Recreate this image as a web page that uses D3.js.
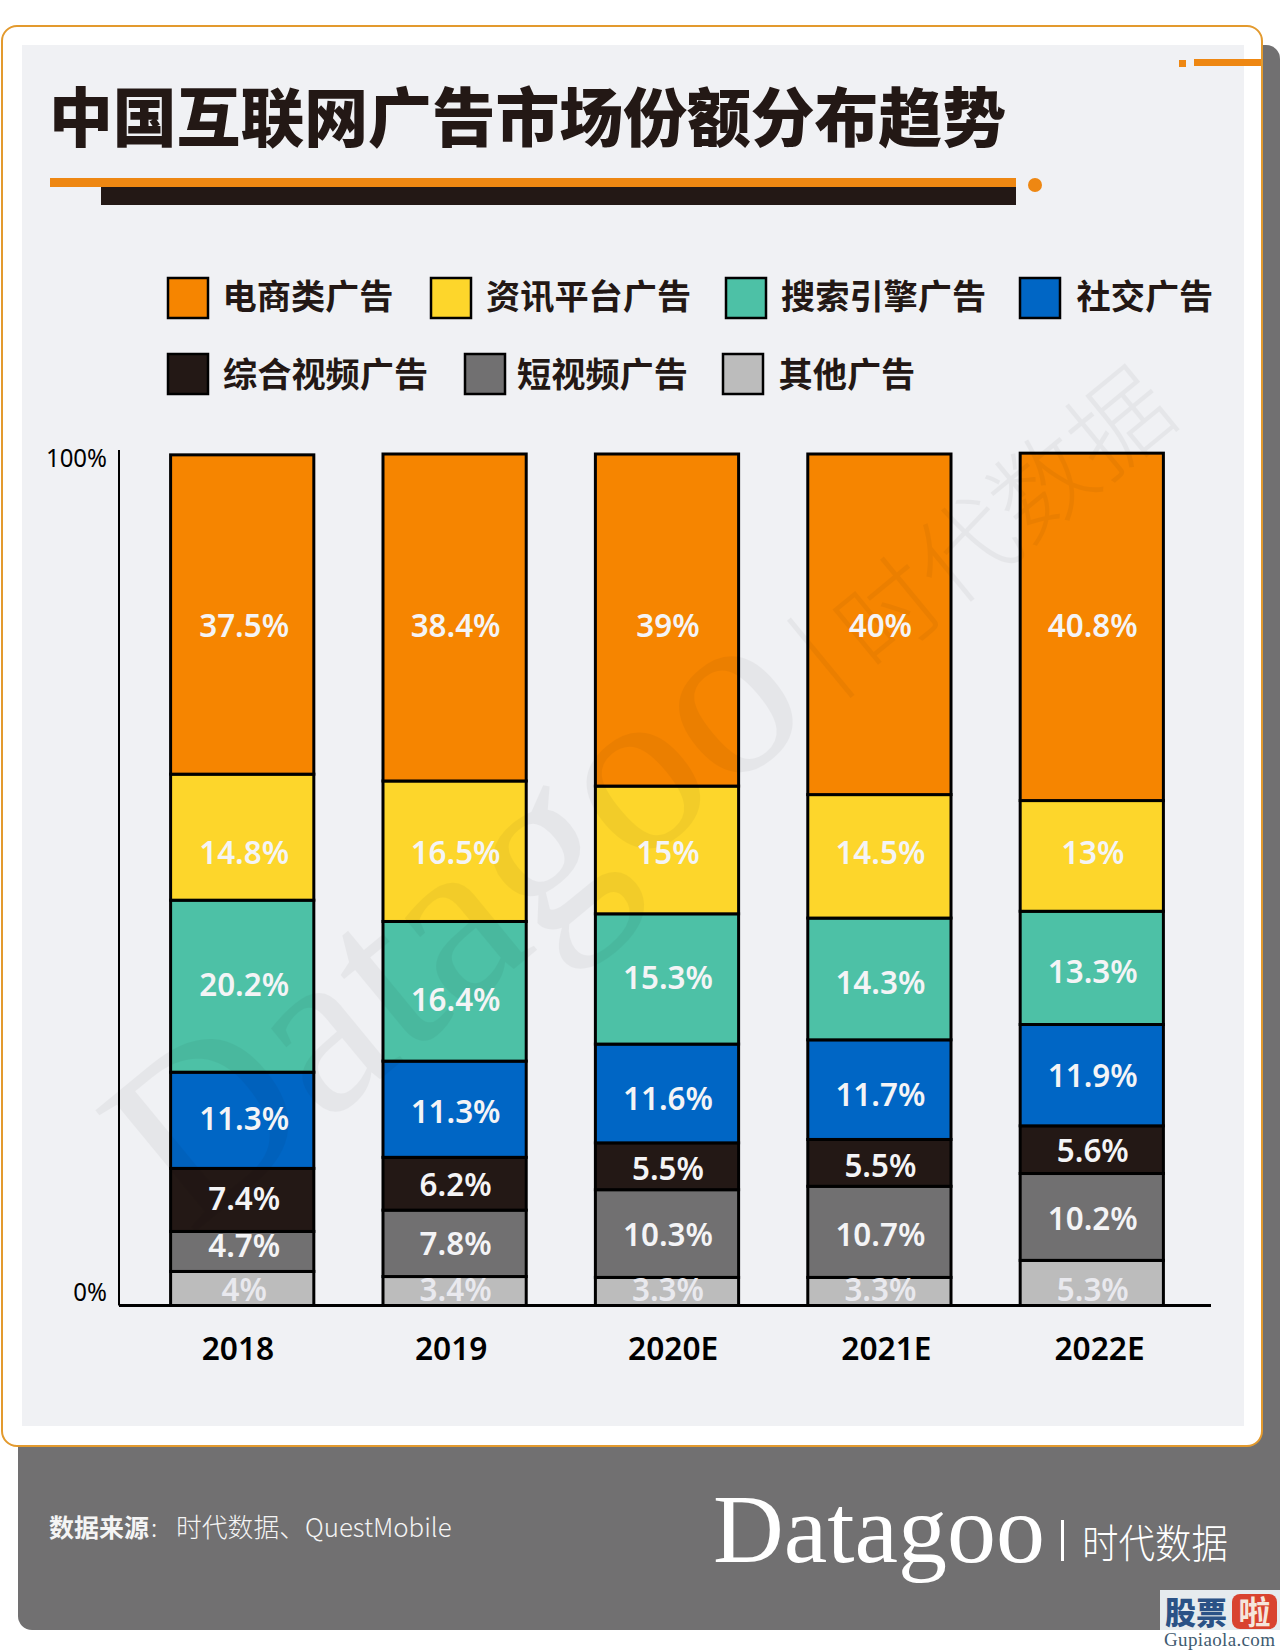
<!DOCTYPE html>
<html>
<head>
<meta charset="utf-8">
<script src="https://cdn.jsdelivr.net/npm/d3@7"></script>
<style>
    html, body { margin: 0; padding: 0; background: #fff; }
    svg { display: block; }
    text { font-family: "Noto Sans", "Noto Sans CJK SC", sans-serif; }
    .cjk { font-family: "Noto Sans CJK SC", sans-serif; }
    .serif { font-family: "Liberation Serif", serif; }
</style>
</head>
<body>
<svg id="chart" width="1280" height="1650"></svg>
<script>
var years = ['2018', '2019', '2020E', '2021E', '2022E'];
var seriesNames = ['电商类广告', '资讯平台广告', '搜索引擎广告', '社交广告', '综合视频广告', '短视频广告', '其他广告'];
var seriesColors = ['#f68500', '#fdd62b', '#4dc1a6', '#0066c5', '#231815', '#717071', '#bcbcbc'];

var ecommerce = [37.5, 38.4, 39, 40, 40.8];
var news = [14.8, 16.5, 15, 14.5, 13];
var search = [20.2, 16.4, 15.3, 14.3, 13.3];
var social = [11.3, 11.3, 11.6, 11.7, 11.9];
var longVideo = [7.4, 6.2, 5.5, 5.5, 5.6];
var shortVideo = [4.7, 7.8, 10.3, 10.7, 10.2];
var other = [4, 3.4, 3.3, 3.3, 5.3];
var yTicks = [0, 100];

var allSeries = [ecommerce, news, search, social, longVideo, shortVideo, other];

var svg = d3.select('#chart');
var ink = '#231815';

// the original text is a narrower face than Noto Sans, so squeeze it a bit
function squeeze(sel, k) {
    sel.attr('textLength', function () { return this.getComputedTextLength() * k; })
        .attr('lengthAdjust', 'spacingAndGlyphs');
}

// card + footer
svg.append('rect').attr('x', 18).attr('y', 45).attr('width', 1262).attr('height', 1585)
    .attr('rx', 14).attr('fill', '#717071');
svg.append('rect').attr('x', 2).attr('y', 26).attr('width', 1260).attr('height', 1420)
    .attr('rx', 15).attr('fill', '#fff').attr('stroke', '#e39a2e').attr('stroke-width', 2);
svg.append('rect').attr('x', 22).attr('y', 45).attr('width', 1222).attr('height', 1381).attr('fill', '#f0f1f4');

// corner ornament
svg.append('rect').attr('x', 1179).attr('y', 60).attr('width', 7).attr('height', 7).attr('fill', '#ee8712');
svg.append('rect').attr('x', 1194).attr('y', 59).attr('width', 67).attr('height', 7).attr('fill', '#ee8712');

// title
svg.append('text').attr('class', 'cjk').attr('x', 49).attr('y', 141)
    .attr('font-size', 63.8).attr('font-weight', 900).attr('fill', ink)
    .text('中国互联网广告市场份额分布趋势');
svg.append('rect').attr('x', 50).attr('y', 178).attr('width', 966).attr('height', 9).attr('fill', '#ee8712');
svg.append('rect').attr('x', 101).attr('y', 187).attr('width', 915).attr('height', 18).attr('fill', ink);
svg.append('circle').attr('cx', 1035).attr('cy', 185).attr('r', 7).attr('fill', '#ee8712');

// legend
var legendRows = [
    [[168, 222.5], [431, 486], [726, 781], [1020, 1076.5]],
    [[168, 223], [465, 517], [723, 778.5]]
];
var legendY = [278, 354];
var legendItems = [];
legendRows.forEach(function (row, r) {
    row.forEach(function (pos) {
        legendItems.push({ i: legendItems.length, r: r, sx: pos[0], tx: pos[1], y: legendY[r] });
    });
});
var legend = svg.append('g').selectAll('g').data(legendItems).enter().append('g');
legend.append('rect')
    .attr('x', function (d) { return d.sx; })
    .attr('y', function (d) { return d.y; })
    .attr('width', 40).attr('height', 40)
    .attr('fill', function (d) { return seriesColors[d.i]; })
    .attr('stroke', '#000').attr('stroke-width', 2.5);
legend.append('text').attr('class', 'cjk')
    .attr('x', function (d) { return d.tx; })
    .attr('y', function (d) { return d.y + (d.r ? 33 : 31); })
    .attr('font-size', 34.2).attr('font-weight', 700).attr('fill', ink)
    .text(function (d) { return seriesNames[d.i]; });

// scales
var x = d3.scaleBand().domain(years).range([170.6, 1163.4]).paddingInner(0.3257);
var y = d3.scaleLinear().domain([0, 100]).range([1305.5, 454]);

var rows = years.map(function (yr, j) {
    var row = { year: yr };
    seriesNames.forEach(function (n, s) { row[n] = allSeries[s][j]; });
    return row;
});
var stacked = d3.stack().keys(seriesNames.slice().reverse())(rows);

// bars, bottom segment first
var layers = svg.append('g').selectAll('g').data(stacked).enter().append('g')
    .attr('fill', function (d) { return seriesColors[seriesNames.indexOf(d.key)]; });
layers.selectAll('rect').data(function (d) { return d; }).enter().append('rect')
    .attr('x', function (d) { return x(d.data.year); })
    .attr('y', function (d) { return y(d[1]); })
    .attr('width', x.bandwidth())
    .attr('height', function (d) { return y(d[0]) - y(d[1]); })
    .attr('stroke', '#000').attr('stroke-width', 3);

// big faint watermark sits over the bars
var mark = svg.append('g').attr('transform', 'translate(190,1236) rotate(-39.5)')
    .attr('fill', '#000').attr('opacity', 0.04);
mark.append('text').attr('class', 'serif').attr('font-size', 240).text('Datagoo');
mark.append('rect').attr('x', 852).attr('y', -95).attr('width', 5).attr('height', 100);
mark.append('text').attr('class', 'cjk').attr('x', 885).attr('y', 0)
    .attr('font-size', 100).attr('font-weight', 300).text('时代数据');

// axes
var yAxis = d3.axisLeft(y).tickValues(yTicks).tickSize(0).tickPadding(0)
    .tickFormat(function (d) { return d + '%'; });
var yG = svg.append('g').attr('transform', 'translate(119,0)').call(yAxis);
yG.select('.domain').attr('d', 'M0,' + (y(100) - 4) + 'V' + y(0)).attr('stroke', '#000').attr('stroke-width', 2);
yG.selectAll('text')
    .attr('x', -12)
    .attr('dy', function (d) { return d === 0 ? -5 : 12; })
    .attr('font-size', 25.5).attr('fill', '#000')
    .style('font-family', '"Noto Sans", sans-serif')
    .call(squeeze, 0.94);

var xAxis = d3.axisBottom(x).tickSize(0);
var xG = svg.append('g').attr('transform', 'translate(0,' + y(0) + ')').call(xAxis);
xG.select('.domain').attr('d', 'M119,0H1211').attr('stroke', '#000').attr('stroke-width', 3);
// tick labels drift right of the bars a little in the original
xG.selectAll('text')
    .attr('text-anchor', 'start')
    .attr('x', function (d, i) { return -40.5 + i * 0.8; })
    .attr('y', 31)
    .attr('font-size', 33).attr('font-weight', 600).attr('fill', '#000')
    .style('font-family', '"Noto Sans", sans-serif')
    .call(squeeze, 0.96);

// value labels: top two and bottom series keep one height across years, others sit mid segment
var labelAnchor = { '电商类广告': 79.85, '资讯平台广告': 53.2, '其他广告': 1.9 };
// hand placed in the original, pixels off the segment middle
var labelNudge = {
    '搜索引擎广告': [0, 10, 0, 5, 5],
    '社交广告': [0, 4, 7, 6, 2],
    '综合视频广告': [0, 2, 4, 4, 2],
    '短视频广告': [-4, 2, 3, 4, 3]
};
stacked.forEach(function (layer) {
    var s = seriesNames.indexOf(layer.key);
    svg.append('g').selectAll('text').data(layer).enter().append('text')
        .attr('x', function (d, j) { return x(d.data.year) + x.bandwidth() / 2 + (j === 0 ? 2 : 1); })
        .attr('y', function (d, j) {
            var v = labelAnchor[layer.key];
            if (v !== undefined) return y(v);
            return y((d[0] + d[1]) / 2) - 2 + labelNudge[layer.key][j];
        })
        .attr('dy', '0.36em')
        .attr('text-anchor', 'middle')
        .attr('font-size', 33).attr('font-weight', 600)
        .attr('fill', s === 6 ? '#e9e9ee' : '#f4f4f6')
        .text(function (d) { return d.data[layer.key] + '%'; })
        .call(squeeze, 0.95);
});

// footer text
svg.append('text').attr('class', 'cjk').attr('x', 49).attr('y', 1537)
    .attr('font-size', 25).attr('font-weight', 700).attr('fill', '#f4f4f4').text('数据来源');
svg.append('text').attr('class', 'cjk').attr('x', 151).attr('y', 1537)
    .attr('font-size', 25).attr('font-weight', 300).attr('fill', '#f4f4f4').text(':');
svg.append('text').attr('class', 'cjk').attr('x', 176).attr('y', 1537)
    .attr('font-size', 25.8).attr('font-weight', 300).attr('fill', '#f4f4f4').text('时代数据、QuestMobile');

svg.append('text').attr('class', 'serif').attr('x', 713).attr('y', 1562)
    .attr('font-size', 98).attr('fill', '#fff').text('Datagoo');
svg.append('rect').attr('x', 1061).attr('y', 1520).attr('width', 3).attr('height', 41).attr('fill', '#fff');
svg.append('text').attr('class', 'cjk').attr('x', 1082).attr('y', 1558)
    .attr('font-size', 40).attr('font-weight', 300).attr('fill', '#fff')
    .attr('textLength', 146).attr('lengthAdjust', 'spacingAndGlyphs').text('时代数据');

// stock site stamp in the corner
svg.append('rect').attr('x', 1160).attr('y', 1590).attr('width', 120).attr('height', 40).attr('fill', '#e6ebee');
svg.append('rect').attr('x', 1160).attr('y', 1630).attr('width', 120).attr('height', 20).attr('fill', '#fff');
svg.append('text').attr('class', 'cjk').attr('x', 1165).attr('y', 1624)
    .attr('font-size', 31).attr('font-weight', 900).attr('fill', '#2b5286').text('股票');
svg.append('rect').attr('x', 1232).attr('y', 1594).attr('width', 45).attr('height', 35).attr('rx', 8).attr('fill', '#d9432f');
svg.append('text').attr('class', 'cjk').attr('x', 1254.5).attr('y', 1624).attr('text-anchor', 'middle')
    .attr('font-size', 32).attr('font-weight', 700).attr('fill', '#f5e6dc').text('啦');
svg.append('text').attr('class', 'serif').attr('x', 1164).attr('y', 1646)
    .attr('font-size', 19).attr('fill', '#3f5b70')
    .attr('textLength', 111).text('Gupiaola.com');
</script>
</body>
</html>
